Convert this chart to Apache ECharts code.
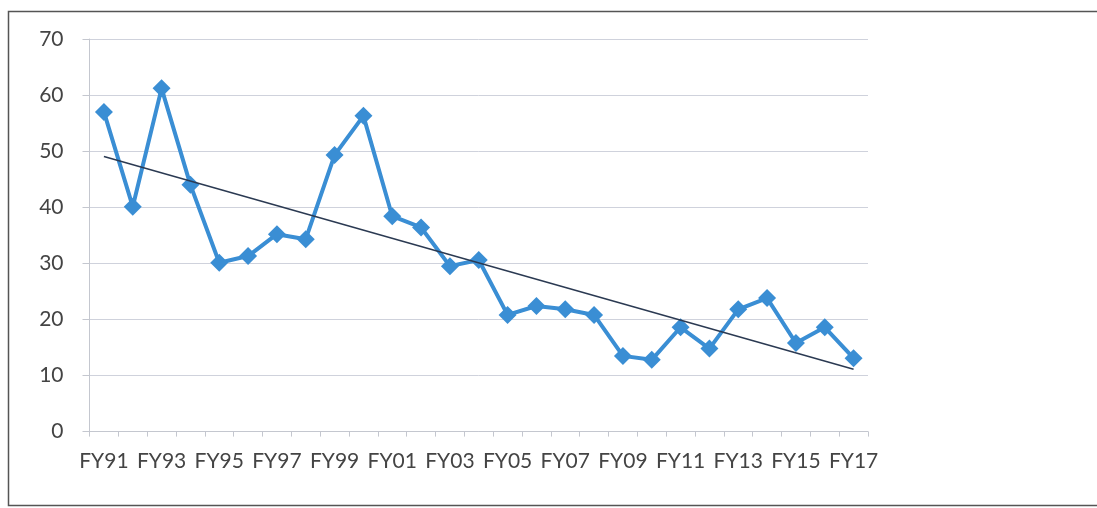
<!DOCTYPE html>
<html>
<head>
<meta charset="utf-8">
<script src="https://cdn.jsdelivr.net/npm/echarts@6/dist/echarts.min.js"></script>
<style>
html,body{margin:0;padding:0;background:#fff;}
#chart{width:1097px;height:508px;}
</style>
</head>
<body>
<div id="chart"></div>
<script>
var categories = ['FY91','FY92','FY93','FY94','FY95','FY96','FY97','FY98','FY99','FY00','FY01','FY02','FY03','FY04','FY05','FY06','FY07','FY08','FY09','FY10','FY11','FY12','FY13','FY14','FY15','FY16','FY17'];
var values = [57.0,40.1,61.2,44.0,30.1,31.3,35.2,34.3,49.3,56.3,38.4,36.4,29.5,30.6,20.8,22.4,21.8,20.8,13.5,12.8,18.6,14.8,21.8,23.8,15.8,18.6,13.1];
var yTicks = [0,10,20,30,40,50,60,70];

// linear trendline (least squares) from the series values
var n = values.length, mx = 0, my = 0;
for (var i = 0; i < n; i++) { mx += i; my += values[i]; }
mx /= n; my /= n;
var sxy = 0, sxx = 0;
for (var i = 0; i < n; i++) { sxy += (i - mx) * (values[i] - my); sxx += (i - mx) * (i - mx); }
var slope = sxy / sxx, icpt = my - slope * mx;
var trend = [[categories[0], icpt], [categories[n - 1], icpt + slope * (n - 1)]];

var chart = echarts.init(document.getElementById('chart'));
chart.setOption({
  animation: false,
  backgroundColor: '#fff',
  graphic: [{
    type: 'rect', silent: true, z: -1,
    shape: { x: 8.5, y: 11.5, width: 1100, height: 494 },
    style: { fill: 'none', stroke: '#555', lineWidth: 1.5 }
  }],
  grid: { left: 89.5, right: 229, top: 39, bottom: 76.4, containLabel: false },
  xAxis: {
    type: 'category',
    data: categories,
    boundaryGap: true,
    axisLine: { show: true, lineStyle: { color: '#c4c7cf', width: 1 } },
    axisTick: { show: true, interval: 0, length: 5, lineStyle: { color: '#c4c7cf' } },
    axisLabel: { interval: 1, margin: 19, color: '#444', fontSize: 21, fontFamily: 'Lato, sans-serif' },
    splitLine: { show: false }
  },
  yAxis: {
    type: 'value',
    min: yTicks[0], max: yTicks[yTicks.length - 1], interval: 10,
    axisLine: { show: true, lineStyle: { color: '#c4c7cf', width: 1 } },
    axisTick: { show: true, length: 7, lineStyle: { color: '#c4c7cf' } },
    axisLabel: { margin: 26, color: '#444', fontSize: 21, fontFamily: 'Lato, sans-serif' },
    splitLine: { show: true, lineStyle: { color: '#cfd2dc', width: 1 } }
  },
  series: [{
    type: 'line',
    data: values,
    symbol: 'diamond',
    symbolSize: 18,
    lineStyle: { color: '#3a8ed4', width: 4 },
    itemStyle: { color: '#3a8ed4' },
    z: 3
  }, {
    type: 'line',
    data: trend,
    symbol: 'none',
    lineStyle: { color: '#2b3a52', width: 1.5 },
    z: 4
  }]
});
</script>
</body>
</html>
